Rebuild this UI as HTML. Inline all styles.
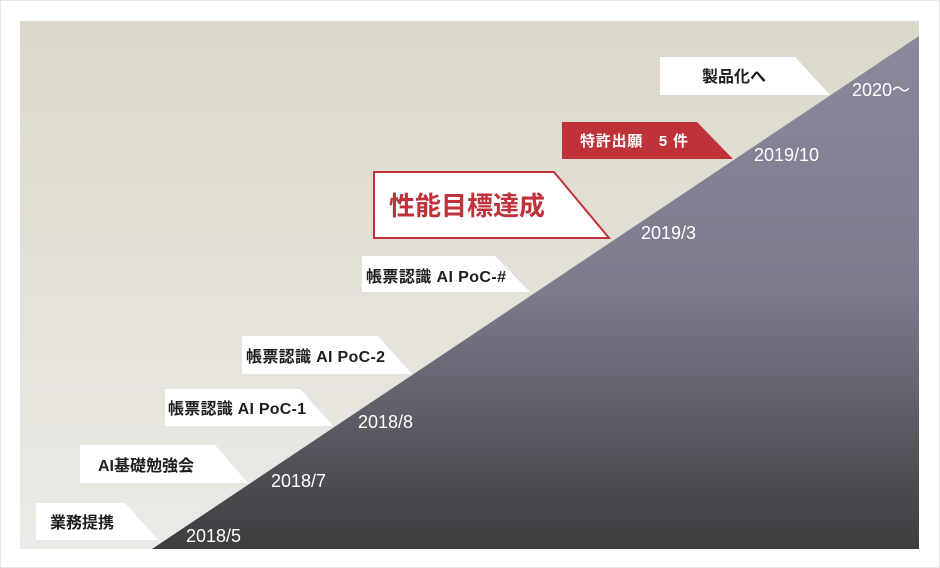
<!DOCTYPE html>
<html><head><meta charset="utf-8"><style>
html,body{margin:0;padding:0;background:#fff;}
body{width:940px;height:568px;overflow:hidden;position:relative;font-family:"Liberation Sans","Noto Sans CJK JP",sans-serif;}
</style></head><body>
<svg width="940" height="568" viewBox="0 0 940 568" xmlns="http://www.w3.org/2000/svg" style="position:absolute;left:0;top:0">
<defs>
<linearGradient id="bg" x1="0" y1="0" x2="0" y2="1"><stop offset="0" stop-color="#dcd8ca"/><stop offset="1" stop-color="#ebeae6"/></linearGradient>
<linearGradient id="tri" x1="0" y1="0" x2="0" y2="1"><stop offset="0" stop-color="#8a899c"/><stop offset="0.5" stop-color="#7c7b8c"/><stop offset="1" stop-color="#3e3c3e"/></linearGradient>
</defs>
<rect x="0.5" y="0.5" width="939" height="567" fill="#fff" stroke="#e6e6e6"/>
<rect x="20" y="21" width="899" height="528" fill="url(#bg)"/>
<polygon points="152,549 919,36 919,549" fill="url(#tri)"/>
<g font-family="Liberation Sans, Noto Sans CJK JP, sans-serif" font-weight="bold" font-size="16" fill="#1e1e1e">
<polygon points="36,503 125,503 158,540 36,540" fill="#fff"/>
<text x="50" y="528">業務提携</text>
<polygon points="80,445 215,445 248,483 80,483" fill="#fff"/>
<text x="98" y="471">AI基礎勉強会</text>
<polygon points="165,389 300,389 333,426 165,426" fill="#fff"/>
<text x="168" y="414" textLength="138">帳票認識 AI  PoC-1</text>
<polygon points="242,336 378,336 412,374 242,374" fill="#fff"/>
<text x="246" y="362" textLength="139">帳票認識 AI  PoC-2</text>
<polygon points="362,256 495,256 530,292 362,292" fill="#fff"/>
<text x="366" y="282" textLength="140">帳票認識 AI  PoC-#</text>
<polygon points="374,172 554,172 609,238 374,238" fill="#fff" stroke="#c0323a" stroke-width="2"/>
<text x="389" y="215" font-size="26" fill="#c0323a">性能目標達成</text>
<polygon points="562,122 697,122 733,159 562,159" fill="#c0323a"/>
<text x="580" y="146" fill="#fff" font-size="15" textLength="108">特許出願　5 件</text>
<polygon points="660,57 795,57 830,95 660,95" fill="#fff"/>
<text x="702" y="82" font-size="16">製品化へ</text>
</g>
<g font-family="Liberation Sans, Noto Sans CJK JP, sans-serif" font-size="18" fill="#fff">
<text x="186" y="542">2018/5</text>
<text x="271" y="487">2018/7</text>
<text x="358" y="428">2018/8</text>
<text x="641" y="239">2019/3</text>
<text x="754" y="161">2019/10</text>
<text x="852" y="96">2020～</text>
</g>
</svg>
</body></html>
